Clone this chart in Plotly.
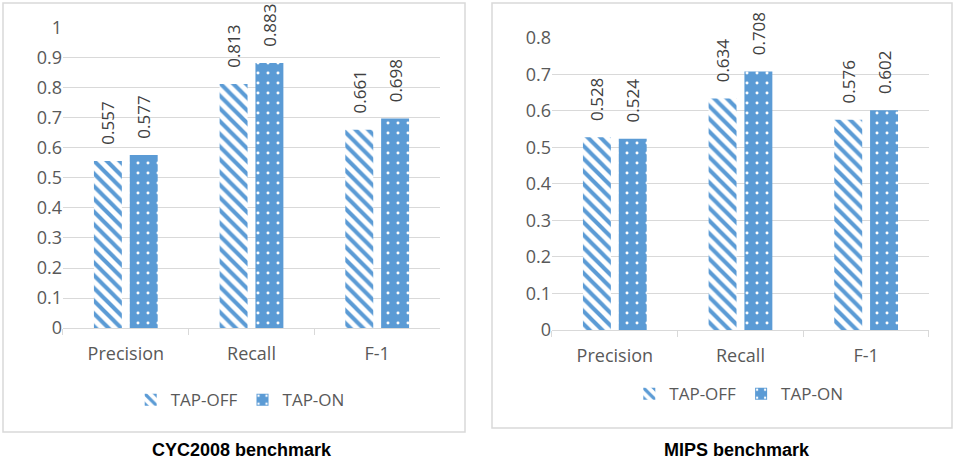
import plotly.graph_objects as go

categories = ["Precision", "Recall", "F-1"]
cyc_off = [0.557, 0.813, 0.661]
cyc_on = [0.577, 0.883, 0.698]
mips_off = [0.528, 0.634, 0.576]
mips_on = [0.524, 0.708, 0.602]
cyc_ticks = [0, 0.1, 0.2, 0.3, 0.4, 0.5, 0.6, 0.7, 0.8, 0.9, 1]
mips_ticks = [0, 0.1, 0.2, 0.3, 0.4, 0.5, 0.6, 0.7, 0.8]

blue = "#5B9BD5"
grid = "#D9D9D9"
txt = "#595959"
fnt = "Open Sans"

fig = go.Figure()


def add_pair(off, on, xa, ya, leg):
    # leading spaces give the gap between bar top and rotated label
    fig.add_trace(go.Bar(
        x=categories, y=off, name="TAP-OFF", xaxis=xa, yaxis=ya, legend=leg,
        marker=dict(color="white", line=dict(width=0),
                    pattern=dict(shape="\\", fgcolor=blue, bgcolor="white",
                                 size=9, solidity=0.45, fillmode="replace")),
        text=[f"&nbsp;&nbsp;&nbsp;{v:.3f}" for v in off], textposition="outside",
        textangle=-90, constraintext="none",
        textfont=dict(size=17, color="#404040", family=fnt), cliponaxis=False,
    ))
    fig.add_trace(go.Bar(
        x=categories, y=on, name="TAP-ON", xaxis=xa, yaxis=ya, legend=leg,
        marker=dict(color=blue, line=dict(width=0),
                    pattern=dict(shape=".", fgcolor="white", bgcolor=blue,
                                 size=10, solidity=0.07, fillmode="replace")),
        text=[f"&nbsp;&nbsp;&nbsp;{v:.3f}" for v in on], textposition="outside",
        textangle=-90, constraintext="none",
        textfont=dict(size=17, color="#404040", family=fnt), cliponaxis=False,
    ))


add_pair(cyc_off, cyc_on, "x", "y", "legend")
add_pair(mips_off, mips_on, "x2", "y2", "legend2")

xstyle = dict(showline=True, linecolor=grid, ticks="outside", tickson="boundaries",
              ticklen=6, tickcolor=grid, tickfont=dict(size=18, color=txt, family=fnt),
              ticklabelstandoff=9, showgrid=False, fixedrange=True, automargin=False)
ystyle = dict(showline=False, gridcolor=grid, zeroline=False, ticks="",
              tickfont=dict(size=18, color=txt, family=fnt), fixedrange=True,
              automargin=False)

fig.update_layout(
    width=957, height=461,
    margin=dict(l=0, r=0, t=0, b=0),
    paper_bgcolor="white", plot_bgcolor="white",
    barmode="group", bargap=0.43, bargroupgap=0.22,
    font=dict(family=fnt, color=txt),
    xaxis=dict(domain=[0.0658, 0.4598], anchor="y", **xstyle),
    yaxis=dict(domain=[0.2885, 0.9393], anchor="x", range=[0, 1],
               tickvals=cyc_ticks, ticktext=[f"{t:g}" for t in cyc_ticks], **ystyle),
    xaxis2=dict(domain=[0.5768, 0.9707], anchor="y2", **xstyle),
    yaxis2=dict(domain=[0.2842, 0.9176], anchor="x2", range=[0, 0.8],
                tickvals=mips_ticks, ticktext=[f"{t:g}" for t in mips_ticks], **ystyle),
    legend=dict(orientation="h", x=0.251, y=0.132, xanchor="center", yanchor="middle",
                font=dict(size=17, color=txt, family=fnt), itemwidth=30),
    legend2=dict(orientation="h", x=0.772, y=0.145, xanchor="center", yanchor="middle",
                 font=dict(size=17, color=txt, family=fnt), itemwidth=30),
    showlegend=True,
)

# panel frames
fig.add_shape(type="rect", xref="paper", yref="paper", x0=3 / 957, x1=465 / 957,
              y0=1 - 432 / 461, y1=1 - 3 / 461, line=dict(color=grid, width=1.5))
fig.add_shape(type="rect", xref="paper", yref="paper", x0=492 / 957, x1=952 / 957,
              y0=1 - 428 / 461, y1=1 - 3 / 461, line=dict(color=grid, width=1.5))

fig.add_annotation(text="<b>CYC2008 benchmark</b>", xref="paper", yref="paper",
                   x=242 / 957, y=1 - 450 / 461, showarrow=False,
                   xanchor="center", yanchor="middle",
                   font=dict(family="Liberation Sans", size=18, color="black"))
fig.add_annotation(text="<b>MIPS benchmark</b>", xref="paper", yref="paper",
                   x=737 / 957, y=1 - 450 / 461, showarrow=False,
                   xanchor="center", yanchor="middle",
                   font=dict(family="Liberation Sans", size=18, color="black"))

fig.write_html("out.html", config={"displayModeBar": False},
               post_script="document.body.style.margin='0';")
